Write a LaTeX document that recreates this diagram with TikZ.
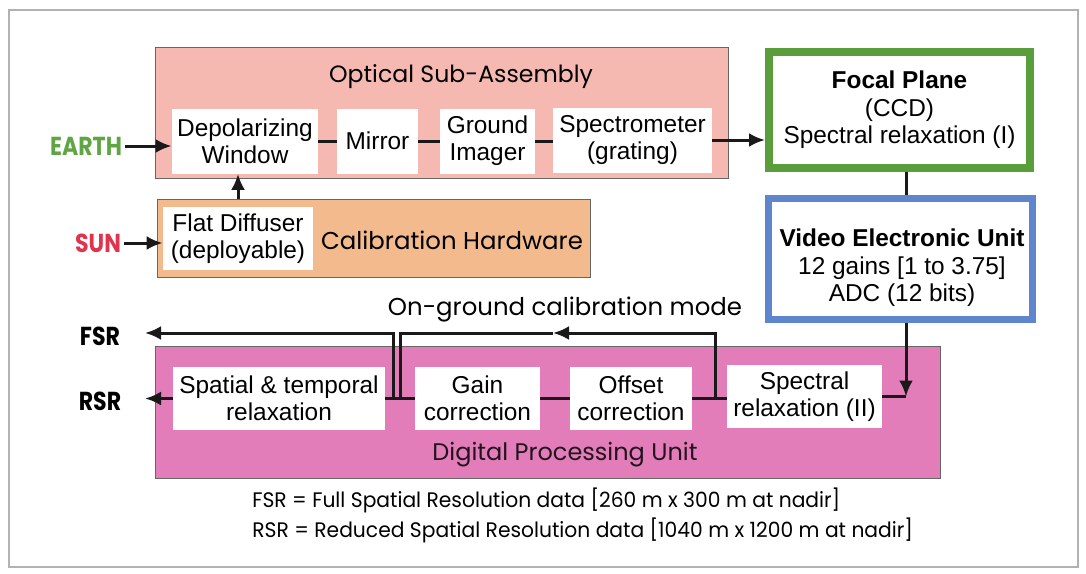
\documentclass[tikz,border=0pt]{standalone}
\usepackage{fontspec}
\setmainfont{Liberation Sans}
\newfontfamily\gothic{Poppins}
\usetikzlibrary{arrows.meta}
\definecolor{optfill}{HTML}{F6B9B1}
\definecolor{calfill}{HTML}{F3BA8E}
\definecolor{dpufill}{HTML}{E27DBA}
\definecolor{fpgreen}{HTML}{5A9E3C}
\definecolor{veublue}{HTML}{5F86CC}
\definecolor{earthgreen}{HTML}{5FA544}
\definecolor{sunred}{HTML}{E0334E}
\tikzset{
  group/.style={draw=black!60, line width=0.5pt, inner sep=0pt},
  wbox/.style={fill=white, inner sep=0pt, align=center, font=\fontsize{12.2}{13.6}\selectfont},
  title/.style={font=\gothic\fontsize{11.5}{14}\selectfont, inner sep=0pt},
  src/.style={font=\gothic\bfseries\fontsize{13}{15}\selectfont, inner sep=0pt, xscale=0.85},
  conn/.style={line width=1.5pt, black!90},
  arr/.style={conn, -{Latex[length=8pt,width=7pt]}},
}
\begin{document}
\begin{tikzpicture}[x=0.5pt,y=-0.5pt]
\useasboundingbox (0,0) rectangle (1086,573);
\draw[black!30, line width=0.6pt] (9,10) rectangle (1078,567);

% Optical sub-assembly
\node[group, fill=optfill, minimum width=286.5pt, minimum height=65.5pt] (opt) at (441.5,112.5) {};
\node[title, font=\gothic\fontsize{11.8}{14}\selectfont] (optt) at (461,77) {Optical Sub-Assembly};
\node[wbox, minimum width=73pt, minimum height=32.5pt] (dep) at (245,141) {Depolarizing\\Window};
\node[wbox, minimum width=40.5pt, minimum height=32.5pt] (mir) at (377.5,141) {Mirror};
\node[wbox, minimum width=47.5pt, minimum height=32.5pt] (gi) at (487.5,141) {Ground\\Imager};
\node[wbox, minimum width=79.5pt, minimum height=32.5pt] (spec) at (632.5,140) {Spectrometer\\(grating)};

% Calibration hardware
\node[group, fill=calfill, minimum width=216.5pt, minimum height=39pt] (cal) at (373.5,238) {};
\node[wbox, minimum width=75pt, minimum height=31.5pt] (fd) at (238,238.5) {Flat Diffuser\\(deployable)};
\node[title, font=\gothic\fontsize{12.2}{14}\selectfont] (calt) at (452,240) {Calibration Hardware};

% Focal plane
\node[draw=fpgreen, line width=4pt, fill=white, minimum width=130.5pt, minimum height=58pt, inner sep=0pt, align=center, font=\fontsize{12.2}{13.8}\selectfont] (fp) at (899.5,110) {\textbf{Focal Plane}\\(CCD)\\Spectral relaxation (I)};

% Video electronic unit
\node[draw=veublue, line width=3.5pt, fill=white, minimum width=132pt, minimum height=60.5pt, inner sep=0pt] (veu) at (900.5,259) {};
\node[align=center, inner sep=0pt, font=\fontsize{12.2}{13.8}\selectfont] (veut) at (902,268) {\textbf{Video Electronic Unit}\\12 gains [1 to 3.75]\\ADC (12 bits)};

% Digital processing unit
\node[group, fill=dpufill, minimum width=392.5pt, minimum height=66pt] (dpu) at (547.5,412) {};
\node[title, font=\gothic\fontsize{12}{14}\selectfont, text=black!85!dpufill] (dput) at (565,455) {Digital Processing Unit};
\node[wbox, minimum width=106pt, minimum height=31.5pt] (st) at (279,398.5) {Spatial \& temporal\\relaxation};
\node[wbox, minimum width=62.5pt, minimum height=31.5pt] (gain) at (477.5,398.5) {Gain\\correction};
\node[wbox, minimum width=61pt, minimum height=31.5pt] (off) at (631,398.5) {Offset\\correction};
\node[wbox, minimum width=77.5pt, minimum height=31.5pt] (sp2) at (804.5,396.5) {Spectral\\relaxation (II)};

% Labels
\node[src, text=earthgreen] (earth) at (86,146) {EARTH};
\node[src, text=sunred] (sun) at (98,243) {SUN};
\node[src] (fsr) at (100,336) {FSR};
\node[src] (rsr) at (100,401) {RSR};
\node[title, font=\gothic\fontsize{12.2}{14}\selectfont] (ogc) at (565,310) {On-ground calibration mode};
\node[title, anchor=west, xscale=0.965, font=\gothic\fontsize{10.5}{14}\selectfont] (fn1) at (252,500) {FSR = Full Spatial Resolution data [260 m x 300 m at nadir]};
\node[title, anchor=west, xscale=0.965, font=\gothic\fontsize{10.5}{14}\selectfont] (fn2) at (252,530) {RSR = Reduced Spatial Resolution data [1040 m x 1200 m at nadir]};

% coordinates
\coordinate (vx) at (906,0);
\coordinate (j1) at (393,398.5);
\coordinate (j2) at (400,398.5);
\coordinate (j3) at (715,398.5);
\coordinate (topl) at (145,333);
\coordinate (mida) at (553,333);

% connectors
\draw[arr] (earth.east) ++(3,0) coordinate (e0) -- (e0 -| dep.west);
\draw[arr] (sun.east) ++(3,0) coordinate (s0) -- (s0 -| fd.west);
\draw[arr] (fd.north |- cal.north) -- (fd.north |- dep.south);
\draw[conn] (dep.east) -- (mir.west);
\draw[conn] (mir.east) -- (gi.west);
\draw[conn] (gi.east) -- (gi.east -| spec.west);
\draw[arr] (spec.east) -- (spec.east -| fp.west);
\draw[conn] (fp.south -| vx) -- (veu.north -| vx);
\draw[arr] (veu.south -| vx) -- (vx |- sp2.east);
\draw[conn] (sp2.east) -- (vx |- sp2.east);
\draw[conn] (st.east) -- (st.east -| gain.west);
\draw[conn] (gain.east) -- (off.west);
\draw[conn] (off.east) -- (off.east -| sp2.west);
\draw[arr] (j1) -- (j1 |- topl) -- (topl);
\draw[arr] (j3) -- (j3 |- mida) -- (mida);
\draw[conn] (mida) -- (j2 |- mida) -- (j2);
\draw[arr] (st.west) -- (st.west -| topl);
\end{tikzpicture}
\end{document}
